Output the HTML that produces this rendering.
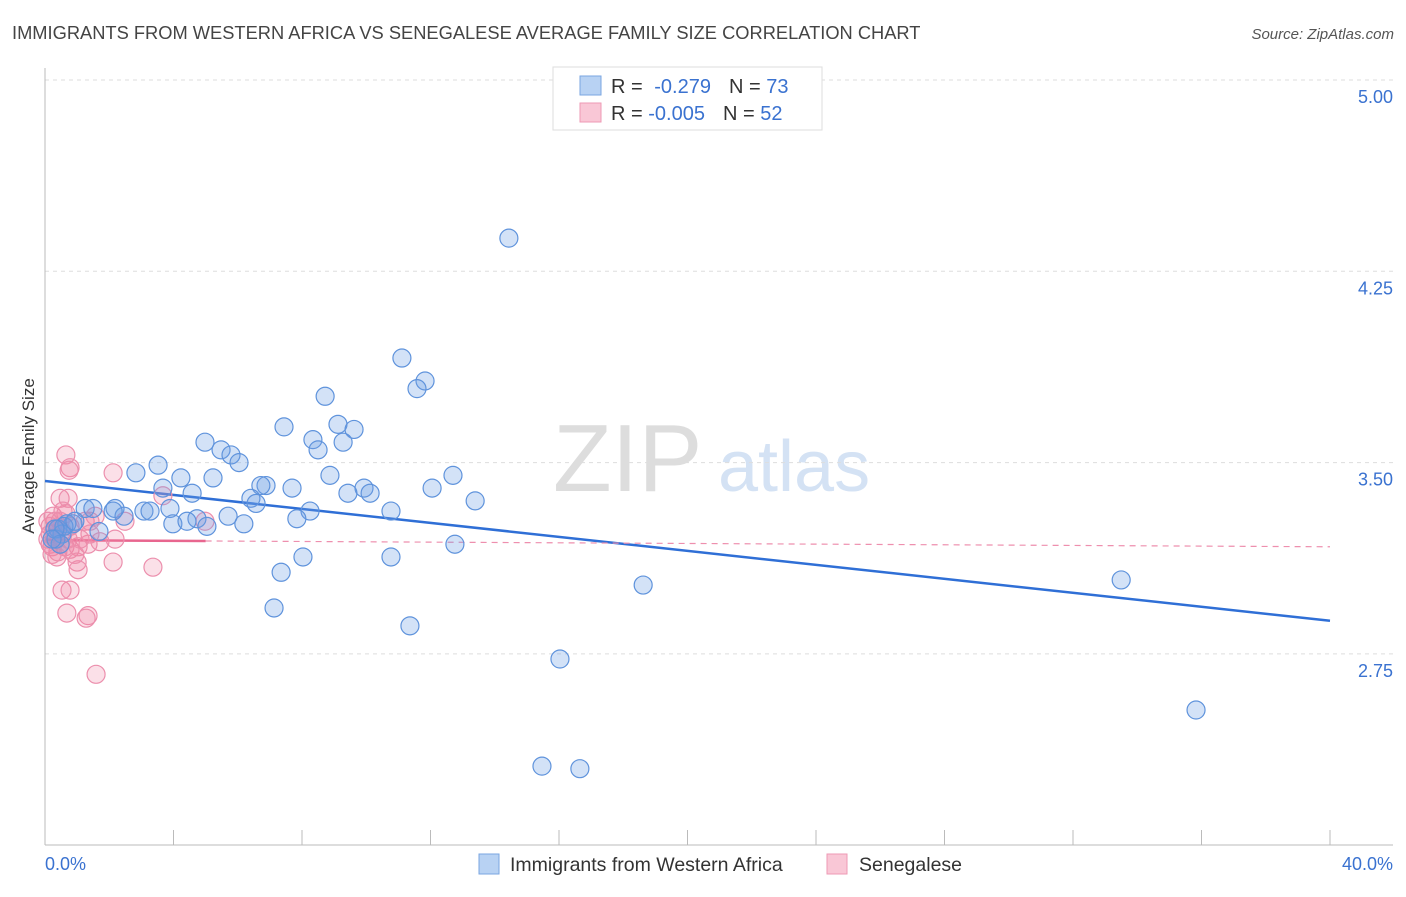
<!DOCTYPE html>
<html><head><meta charset="utf-8">
<style>
body{margin:0;background:#fff;font-family:"Liberation Sans",sans-serif;}
svg text{font-family:"Liberation Sans",sans-serif;}
</style></head>
<body>
<svg id="chart" width="1406" height="892" viewBox="0 0 1406 892" xmlns="http://www.w3.org/2000/svg">
<text x="12" y="39" font-size="18.3" fill="#444">IMMIGRANTS FROM WESTERN AFRICA VS SENEGALESE AVERAGE FAMILY SIZE CORRELATION CHART</text>
<text x="1394" y="39" font-size="15" fill="#555" font-style="italic" text-anchor="end">Source: ZipAtlas.com</text>
<text x="553" y="491" font-size="96" fill="#ddd" font-family="Liberation Serif">ZIP</text>
<text x="718" y="491" font-size="72" fill="#d4e2f4">atlas</text>
<g id="grid"></g>
<g id="axes"></g>
<g id="trend"></g>
<g id="pts"></g>
<text transform="translate(34,456) rotate(-90)" font-size="17" fill="#333" text-anchor="middle">Average Family Size</text>
<g>
<rect x="553" y="67" width="269" height="63" fill="#fff" stroke="#ddd"/>
<rect x="580" y="76" width="21" height="19" fill="#b8d2f3" stroke="#7aa6e0"/>
<rect x="580" y="103" width="21" height="19" fill="#f9c7d6" stroke="#ee9ab4"/>
<text x="611" y="93" font-size="20" fill="#333">R = <tspan fill="#3a72d0" dx="6">-0.279</tspan><tspan dx="18" fill="#333">N = </tspan><tspan fill="#3a72d0">73</tspan></text>
<text x="611" y="120" font-size="20" fill="#333">R = <tspan fill="#3a72d0">-0.005</tspan><tspan dx="18" fill="#333">N = </tspan><tspan fill="#3a72d0">52</tspan></text>
</g>
<g>
<rect x="479" y="854" width="20" height="20" fill="#b8d2f3" stroke="#7aa6e0"/>
<text x="510" y="871" font-size="19.5" fill="#333">Immigrants from Western Africa</text>
<rect x="827" y="854" width="20" height="20" fill="#f9c7d6" stroke="#ee9ab4"/>
<text x="859" y="871" font-size="19.5" fill="#333">Senegalese</text>
</g>
</svg>
<script>
const blueX=[14.44,11.11,11.83,11.58,8.72,9.12,9.62,7.44,8.34,9.28,8.50,4.98,5.48,5.79,6.04,3.52,2.83,4.23,5.23,8.87,12.70,3.67,4.58,6.88,6.72,7.69,9.93,9.43,10.12,12.05,6.41,6.57,13.39,1.25,1.49,2.18,2.46,3.08,3.27,3.89,2.12,4.73,5.70,8.25,10.77,7.84,3.98,4.42,6.19,5.04,0.87,0.68,1.68,0.40,0.53,0.34,12.76,8.03,10.77,7.35,18.62,33.50,7.13,11.36,16.03,35.83,15.47,16.65,0.59,0.93,0.31,0.47,0.22];
const blueY=[4.38,3.91,3.82,3.79,3.76,3.65,3.63,3.64,3.59,3.58,3.55,3.58,3.55,3.53,3.50,3.49,3.46,3.44,3.44,3.45,3.45,3.40,3.38,3.41,3.41,3.40,3.40,3.38,3.38,3.40,3.36,3.34,3.35,3.32,3.32,3.32,3.29,3.31,3.31,3.32,3.31,3.28,3.29,3.31,3.31,3.28,3.26,3.27,3.26,3.25,3.26,3.26,3.23,3.24,3.22,3.20,3.18,3.13,3.13,3.07,3.02,3.04,2.93,2.86,2.73,2.53,2.31,2.30,3.25,3.27,3.24,3.18,3.20];
const pinkX=[0.65,0.78,0.75,2.12,3.67,0.47,0.72,0.25,0.56,0.65,0.31,0.47,0.16,0.78,1.25,1.40,1.56,2.49,4.98,0.16,0.31,0.47,0.62,0.22,0.40,0.78,1.03,1.34,1.71,2.18,0.16,1.00,0.37,1.03,2.12,3.36,0.53,0.78,0.68,1.34,1.28,1.59,0.31,0.53,0.09,0.09,0.93,1.40,0.72,0.40,1.09,0.22];
const pinkY=[3.53,3.48,3.47,3.46,3.37,3.36,3.36,3.29,3.31,3.30,3.27,3.27,3.25,3.25,3.27,3.27,3.29,3.27,3.27,3.22,3.20,3.18,3.17,3.17,3.15,3.16,3.17,3.18,3.19,3.20,3.18,3.11,3.13,3.08,3.11,3.09,3.00,3.00,2.91,2.90,2.89,2.67,3.24,3.23,3.27,3.20,3.14,3.22,3.20,3.24,3.20,3.14];
const yTicks=[5.00,4.25,3.50,2.75];
const yTickLabels=["5.00","4.25","3.50","2.75"];
const xTickLabels=["0.0%","40.0%"];
const blueTrend=[3.428,2.88];
const pinkTrend=[3.196,3.17];
const pinkSolidEnd=5;

const NS="http://www.w3.org/2000/svg";
const X0=45,X1=1330,XMAX=40;
const xs=v=>X0+(X1-X0)*v/XMAX;
const ys=v=>80+(5-v)*255.07;
function mk(tag,attrs,parent){const e=document.createElementNS(NS,tag);for(const k in attrs)e.setAttribute(k,attrs[k]);parent.appendChild(e);return e;}
const grid=document.getElementById('grid'),axes=document.getElementById('axes'),trend=document.getElementById('trend'),pts=document.getElementById('pts');
yTicks.forEach((t,i)=>{
  const l=mk('line',{x1:X0,x2:1393,y1:ys(t),y2:ys(t),stroke:'#ddd','stroke-dasharray':'4,4'},grid);
  
  
  const tx=mk('text',{x:1393,y:ys(t)+23,'font-size':18,fill:'#3a72d0','text-anchor':'end'},axes);
  tx.textContent=yTickLabels[i];
  
  
});
const ax=mk('line',{x1:X0,x2:1393,y1:845,y2:845,stroke:'#bbb'},axes);


const ay=mk('line',{x1:X0,x2:X0,y1:68,y2:845,stroke:'#bbb'},axes);


for(let v=0;v<=XMAX;v+=4){
  const tk=mk('line',{x1:xs(v),x2:xs(v),y1:830,y2:845,stroke:'#bbb'},axes);
  
  
}
const xl0=mk('text',{x:45,y:870,'font-size':18,fill:'#3a72d0'},axes);xl0.textContent=xTickLabels[0];


const xl1=mk('text',{x:1393,y:870,'font-size':18,fill:'#3a72d0','text-anchor':'end'},axes);xl1.textContent=xTickLabels[1];



pinkX.forEach((x,i)=>{
  const c=mk('circle',{cx:xs(x),cy:ys(pinkY[i]),r:9,fill:'rgba(240,130,165,0.25)',stroke:'#ec8fad','stroke-width':1.2},pts);
  
  
});
blueX.forEach((x,i)=>{
  const c=mk('circle',{cx:xs(x),cy:ys(blueY[i]),r:9,fill:'rgba(110,160,230,0.3)',stroke:'#5f93dc','stroke-width':1.2},pts);
  
  
});
const pv=x=>pinkTrend[0]+(pinkTrend[1]-pinkTrend[0])*x/XMAX;
const bt=mk('line',{x1:xs(0),y1:ys(blueTrend[0]),x2:xs(XMAX),y2:ys(blueTrend[1]),stroke:'#2f6fd6','stroke-width':2.5},trend);


const pd=mk('line',{x1:xs(pinkSolidEnd),y1:ys(pv(pinkSolidEnd)),x2:xs(XMAX),y2:ys(pinkTrend[1]),stroke:'#ee8fae','stroke-width':1.2,'stroke-dasharray':'6,5'},trend);


const ps=mk('line',{x1:xs(0),y1:ys(pinkTrend[0]),x2:xs(pinkSolidEnd),y2:ys(pv(pinkSolidEnd)),stroke:'#e8668f','stroke-width':2.5},trend);


</script>
</body></html>
